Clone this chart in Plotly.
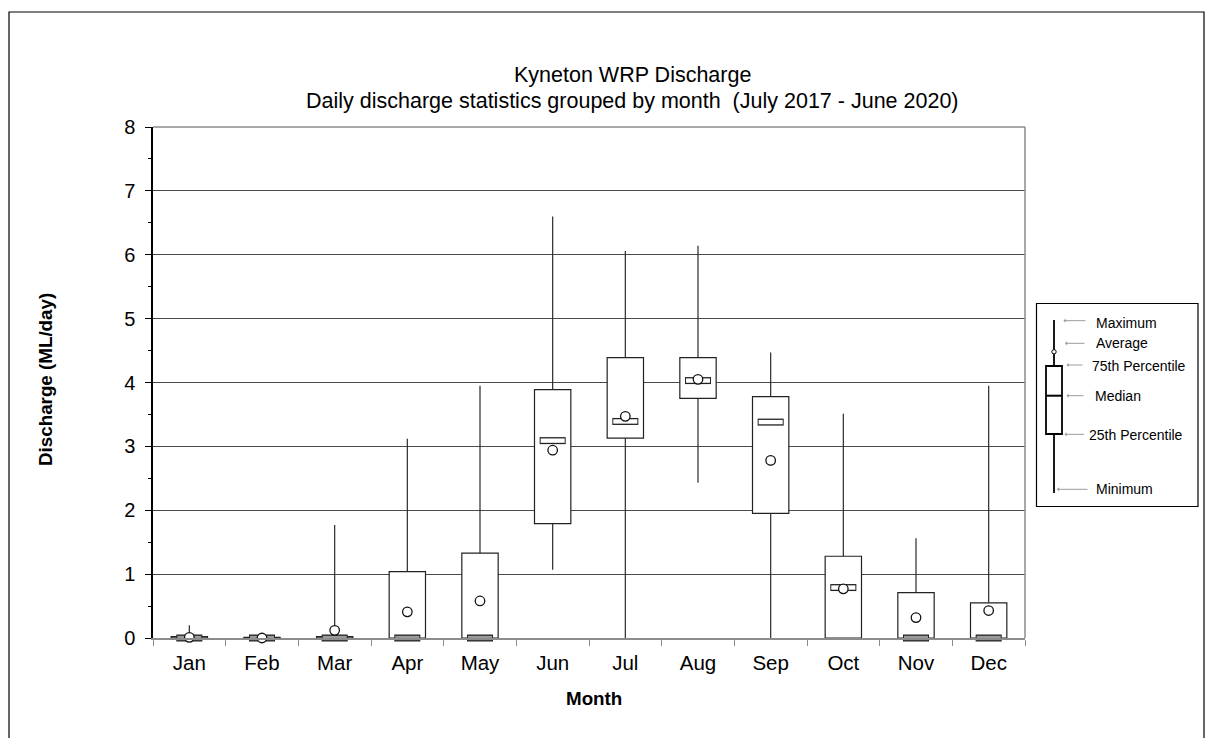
import plotly.graph_objects as go

# ---------------- data ----------------
months = ["Jan", "Feb", "Mar", "Apr", "May", "Jun", "Jul", "Aug", "Sep", "Oct", "Nov", "Dec"]
minimum = [0.00, 0.00, 0.00, 0.00, 0.00, 1.07, 0.00, 2.43, 0.00, 0.00, 0.00, 0.00]
q1 = [0.00, 0.00, 0.00, 0.00, 0.00, 1.79, 3.13, 3.75, 1.95, 0.00, 0.00, 0.00]
median = [0.00, 0.00, 0.00, 0.00, 0.00, 3.09, 3.39, 4.03, 3.38, 0.79, 0.00, 0.00]
q3 = [0.02, 0.01, 0.02, 1.04, 1.33, 3.89, 4.39, 4.39, 3.78, 1.28, 0.71, 0.55]
maximum = [0.20, 0.02, 1.77, 3.12, 3.95, 6.60, 6.06, 6.14, 4.47, 3.51, 1.56, 3.95]
mean = [0.01, 0.00, 0.12, 0.41, 0.58, 2.94, 3.47, 4.05, 2.78, 0.77, 0.32, 0.43]
y_ticks = [0, 1, 2, 3, 4, 5, 6, 7, 8]

legend_labels = ["Maximum", "Average", "75th Percentile", "Median", "25th Percentile", "Minimum"]

# ---------------- geometry helpers ----------------
W, H = 1205, 738
L, R, T, B = 153, 1025, 127, 638
FONT = "Liberation Sans, Arial, sans-serif"


def px(x):
    return (x - L) / (R - L)


def py(y):
    return (B - y) / (B - T)


fig = go.Figure()

# whiskers (min->q1 and q3->max)
wx, wy = [], []
for m, lo, a, b, hi in zip(months, minimum, q1, q3, maximum):
    wx += [m, m, None, m, m, None]
    wy += [lo, a, None, b, hi, None]
fig.add_trace(go.Scatter(x=wx, y=wy, mode="lines",
                         line=dict(color="#2a2a2a", width=1.2), hoverinfo="skip"))

# boxes
fig.add_trace(go.Bar(x=months, y=[b - a for a, b in zip(q1, q3)], base=q1, width=0.5,
                     marker=dict(color="white", line=dict(color="#222222", width=1.2))))

# median markers (rectangles); those sitting on the axis appear grey
fig.add_trace(go.Scatter(x=months, y=median, mode="markers", cliponaxis=False,
                         marker=dict(symbol="line-ew", size=18.6,
                                     line=dict(color="#222222", width=7))))
fig.add_trace(go.Scatter(x=months, y=median, mode="markers", cliponaxis=False,
                         marker=dict(symbol="line-ew", size=17.2,
                                     line=dict(color=["#9a9a9a" if v == 0 else "white" for v in median],
                                               width=4.4))))

# means
fig.add_trace(go.Scatter(x=months, y=mean, mode="markers", cliponaxis=False,
                         marker=dict(symbol="circle", size=9.5, color="white",
                                     line=dict(color="#111111", width=1.3))))

shapes = []
# plot frame top/right (gray)
shapes.append(dict(type="line", xref="paper", yref="paper", x0=0, x1=1, y0=1, y1=1,
                   line=dict(color="#8c8c8c", width=1.5)))
shapes.append(dict(type="line", xref="paper", yref="paper", x0=1, x1=1, y0=0, y1=1,
                   line=dict(color="#8c8c8c", width=1.5)))
# outer chart border
shapes.append(dict(type="rect", xref="paper", yref="paper", x0=px(9), x1=px(1204),
                   y0=py(745), y1=py(12), line=dict(color="black", width=1.2)))

# legend image (drawn)
shapes.append(dict(type="rect", xref="paper", yref="paper", x0=px(1036.5), x1=px(1198),
                   y0=py(506.5), y1=py(303.5), line=dict(color="black", width=1.2),
                   fillcolor="white"))
shapes.append(dict(type="line", xref="paper", yref="paper", x0=px(1054), x1=px(1054),
                   y0=py(493), y1=py(320), line=dict(color="black", width=1.8)))
shapes.append(dict(type="rect", xref="paper", yref="paper", x0=px(1046), x1=px(1062),
                   y0=py(434), y1=py(366), line=dict(color="black", width=1.8),
                   fillcolor="white"))
shapes.append(dict(type="line", xref="paper", yref="paper", x0=px(1046), x1=px(1062),
                   y0=py(395.7), y1=py(395.7), line=dict(color="black", width=2)))
shapes.append(dict(type="circle", xref="paper", yref="paper", x0=px(1051.8), x1=px(1056.2),
                   y0=py(354), y1=py(349.6), line=dict(color="black", width=1),
                   fillcolor="white"))

annotations = []
# titles
annotations.append(dict(xref="paper", yref="paper", x=px(632), y=py(75), showarrow=False,
                        text="Kyneton WRP Discharge", font=dict(family=FONT, size=21.5, color="black"),
                        xanchor="center", yanchor="middle"))
annotations.append(dict(xref="paper", yref="paper", x=px(632), y=py(101), showarrow=False,
                        text="Daily discharge statistics grouped by month  (July 2017 - June 2020)",
                        font=dict(family=FONT, size=21.5, color="black"),
                        xanchor="center", yanchor="middle"))
annotations.append(dict(xref="paper", yref="paper", x=px(45), y=py(380), showarrow=False,
                        text="<b>Discharge (ML/day)</b>", textangle=-90,
                        font=dict(family=FONT, size=18.8, color="black"),
                        xanchor="center", yanchor="middle"))
annotations.append(dict(xref="paper", yref="paper", x=px(594), y=py(698), showarrow=False,
                        text="<b>Month</b>", font=dict(family=FONT, size=18.8, color="black"),
                        xanchor="center", yanchor="middle"))

# legend labels + arrows
label_pos = [(1094, 322.7), (1094, 343.3), (1090, 366), (1093, 395.7), (1086.5, 435), (1094, 488.5)]
arrow_pos = [(1063.5, 320.7, 1087), (1065, 343.3, 1086), (1066.5, 365, 1084),
             (1066.5, 395.7, 1085), (1064.5, 434.3, 1085.5), (1057, 489.3, 1089)]
for text, (lx, ly), (hx, hy, tx) in zip(legend_labels, label_pos, arrow_pos):
    annotations.append(dict(xref="paper", yref="paper", x=px(lx), y=py(ly), showarrow=False,
                            text=text, font=dict(family=FONT, size=14, color="black"),
                            xanchor="left", yanchor="middle"))
    annotations.append(dict(xref="paper", yref="paper", x=px(hx), y=py(hy), text="",
                            showarrow=True, ax=tx - hx, ay=0, arrowhead=1, arrowsize=0.7,
                            arrowwidth=1, arrowcolor="#9a9a9a", standoff=0, startstandoff=0))

fig.update_layout(
    width=W, height=H, autosize=False,
    margin=dict(l=L, r=W - R, t=T, b=H - B, pad=0),
    paper_bgcolor="white", plot_bgcolor="white",
    showlegend=False, barmode="overlay",
    font=dict(family=FONT, color="black"),
    shapes=shapes, annotations=annotations,
    xaxis=dict(type="category", categoryorder="array", categoryarray=months,
               tickson="boundaries", ticks="outside", ticklen=6, tickcolor="#8c8c8c",
               tickwidth=1.2, showline=True, linecolor="#8c8c8c", linewidth=1.5,
               showgrid=False, zeroline=False, tickfont=dict(family=FONT, size=20.5, color="black"),
               ticklabelstandoff=6, range=[-0.5, 11.5], fixedrange=True),
    yaxis=dict(range=[0, 8], tickvals=y_ticks, ticks="outside", ticklen=6, tickcolor="black",
               tickwidth=1.2, showline=True, linecolor="black", linewidth=1.5,
               showgrid=True, gridcolor="#4a4a4a", gridwidth=1.2, zeroline=False,
               tickfont=dict(family=FONT, size=20, color="black"), ticklabelstandoff=6,
               minor=dict(dtick=0.5, ticks="outside", ticklen=3, tickcolor="black", showgrid=False),
               fixedrange=True),
)

fig.write_html("out.html", config={"displayModeBar": False},
               post_script="document.body.style.margin='0px';document.body.style.overflow='hidden';")
